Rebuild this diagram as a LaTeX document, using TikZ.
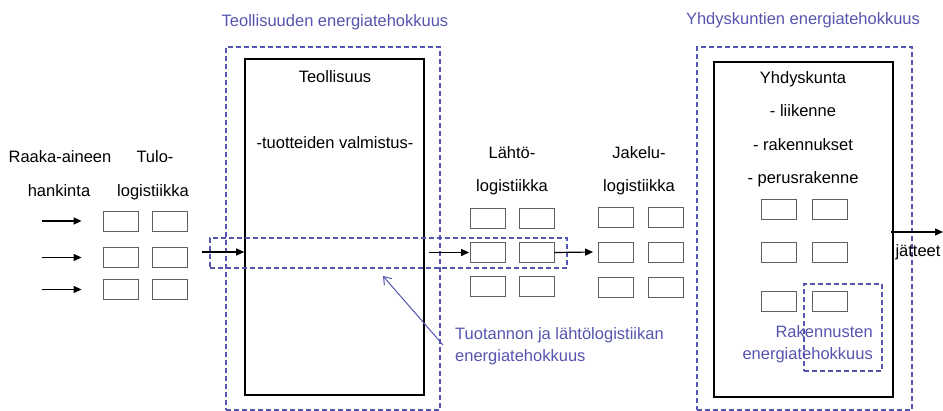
\documentclass[tikz,border=0pt]{standalone}
\usepackage{fontspec}
\setmainfont{Liberation Sans}
\usetikzlibrary{arrows.meta}

\definecolor{effblue}{RGB}{85,85,175}
\definecolor{cellgray}{RGB}{95,95,95}

\tikzset{
	lbl/.style={font=\fontsize{16.5}{19}\selectfont, inner sep=0pt, anchor=base},
	efflbl/.style={lbl, text=effblue},
	zone/.style={draw=effblue, dash pattern=on 5pt off 3pt, line width=1.1pt, inner sep=0pt},
	unit/.style={draw=black, line width=1.6pt, inner sep=0pt},
	cell/.style={draw=cellgray, line width=0.8pt, minimum width=35pt, minimum height=20pt, inner sep=0pt},
	flow/.style={-{Triangle[length=8pt,width=7pt]}, line width=1.2pt},
	note/.style={draw=effblue, line width=1pt, -{Straight Barb[length=7pt,width=10pt]}},
}

\begin{document}
\begin{tikzpicture}[x=1pt,y=-1pt]
	\useasboundingbox (0,0) rectangle (943,411);

	% teollisuus
	\node[zone, minimum width=214pt, minimum height=363pt] (teolz) at (333,228.5) {};
	\node[unit, minimum width=179pt, minimum height=336pt] (teol) at (334.5,227) {};
	\node[efflbl] (teolt) at (335,27) {Teollisuuden energiatehokkuus};
	\node[lbl] (teoln) at (335,83) {Teollisuus};
	\node[lbl] (valm) at (335,149) {-tuotteiden valmistus-};

	% yhdyskunta
	\node[zone, minimum width=215pt, minimum height=363pt] (yhdz) at (804.5,228.5) {};
	\node[unit, minimum width=179pt, minimum height=335pt] (yhd) at (803.5,229.5) {};
	\node[efflbl] (yhdt) at (803,25) {Yhdyskuntien energiatehokkuus};
	\node[lbl] (yhdn) at (803,84) {Yhdyskunta};
	\node[lbl] (liik) at (803,117) {- liikenne};
	\node[lbl] (rak) at (803,151) {- rakennukset};
	\node[lbl] (perus) at (803,184) {- perusrakenne};

	% hankinta ja logistiikka
	\node[lbl] (raaka) at (60,163) {Raaka-aineen};
	\node[lbl] (hank) at (59,197) {hankinta};
	\node[lbl] (tulo) at (155,163) {Tulo-};
	\node[lbl] (tulol) at (153,197) {logistiikka};
	\node[lbl] (lahto) at (512,159) {Lähtö-};
	\node[lbl] (lahtol) at (512,192) {logistiikka};
	\node[lbl] (jak) at (639,159) {Jakelu-};
	\node[lbl] (jakl) at (639,192) {logistiikka};

	% varastot
	\foreach \y [count=\r] in {221,257.5,289.5}
		\foreach \x [count=\c] in {120.5,169.5}
			\node[cell] (tulo\r\c) at (\x,\y) {};
	\foreach \y [count=\r] in {218,252.5,286}
		\foreach \x [count=\c] in {488,536.5}
			\node[cell] (lahto\r\c) at (\x,\y) {};
	\foreach \y [count=\r] in {217,252,287}
		\foreach \x [count=\c] in {616,665.5}
			\node[cell] (jak\r\c) at (\x,\y) {};
	\foreach \y [count=\r] in {209.5,252,301.5}
		\foreach \x [count=\c] in {779,829.5}
			\node[cell] (yhd\r\c) at (\x,\y) {};

	% raaka-aineet sisaan
	\foreach \r in {1,2,3} {
		\coordinate (raw\r) at ([xshift=-61pt]tulo\r1.west);
		\draw[flow] (raw\r) -- ([xshift=-21pt]tulo\r1.west);
	}

	% tuotanto ja lahtologistiikka
	\node[zone, minimum width=357pt, minimum height=30pt] (band) at (388.5,253) {};
	\coordinate (tin) at (202,252);
	\draw[flow] (tin) -- (tin -| teol.west);
	\draw[flow] ([xshift=4pt]teol.east |- lahto21.west) -- ([xshift=-1pt]lahto21.west);
	\draw[flow] (lahto22.east) -- ([xshift=-5pt]jak21.west);

	\node[efflbl, anchor=base west] (tuot) at (455,340) {Tuotannon ja lähtölogistiikan};
	\node[efflbl, anchor=base west] (tuote) at (455,362) {energiatehokkuus};
	\coordinate (notefoot) at (443,345);
	\coordinate (notehead) at (383,276);
	\draw[note] (notefoot) -- (notehead);

	% rakennukset
	\node[zone, minimum width=78pt, minimum height=87pt] (rakz) at (843,327.5) {};
	\node[efflbl, anchor=base east] (rakt) at (873,338) {Rakennusten};
	\node[efflbl, anchor=base east] (rakte) at (873,360) {energiatehokkuus};

	% jatteet ulos
	\coordinate (waste) at (943,232);
	\draw[flow] ([xshift=-3pt]yhd.east |- waste) -- (waste);
	\node[lbl] (jat) at (918,257) {jätteet};
\end{tikzpicture}
\end{document}
